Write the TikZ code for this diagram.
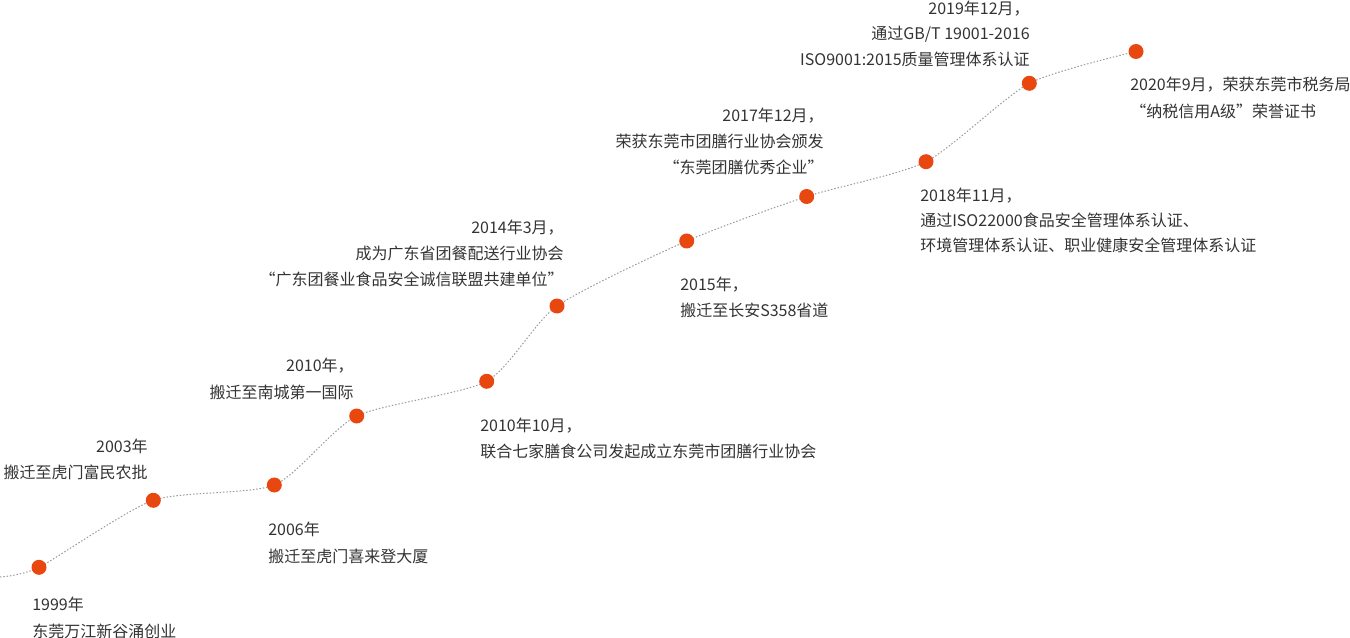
\documentclass[tikz,border=0pt]{standalone}
\usepackage{fontspec}
\setmainfont{Noto Sans CJK SC}
\definecolor{dotc}{HTML}{E8470F}
\definecolor{txtc}{HTML}{333333}
\definecolor{linec}{HTML}{999999}
\begin{document}
\begin{tikzpicture}[x=0.75pt,y=-0.75pt,
  lbl/.style={inner sep=0pt, text=txtc, font=\fontsize{12pt}{19.5pt}\selectfont},
  lw/.style={lbl, anchor=base west},
  le/.style={lbl, anchor=base east},
  dot/.style={circle, fill=dotc, minimum size=11.25pt, inner sep=0pt},
  trail/.style={draw=linec, line width=0.75pt, dash pattern=on 1.1pt off 1.4pt}]
\useasboundingbox (0,0) rectangle (1350,638);
\coordinate (s) at (0,577);
\coordinate (p1) at (39,567.3);
\coordinate (p2) at (153.3,500.3);
\coordinate (p3) at (274.3,485);
\coordinate (p4) at (356.7,416);
\coordinate (p5) at (486.7,381.3);
\coordinate (p6) at (557,306);
\coordinate (p7) at (686.7,241);
\coordinate (p8) at (806.7,196.5);
\coordinate (p9) at (926,161.7);
\coordinate (p10) at (1029.3,83.3);
\coordinate (p11) at (1136,51.5);
\draw[trail] plot[smooth, tension=0.4] coordinates {(s) (p1) (p2) (p3) (p4) (p5) (p6) (p7) (p8) (p9) (p10) (p11)};
\foreach \i in {1,...,11} \node[dot] (d\i) at (p\i) {};
% 1999
\node[lw] (a1) at (32,610) {1999年};
\node[lw] (a2) at (32,637) {东莞万江新谷涌创业};
% 2003
\node[le] (b1) at (148,452) {2003年};
\node[le] (b2) at (148,478.5) {搬迁至虎门富民农批};
% 2006
\node[lw] (c1) at (268,535) {2006年};
\node[lw] (c2) at (268,562) {搬迁至虎门喜来登大厦};
% 2010
\node[le] (e1) at (354,371.5) {2010年，};
\node[le] (e2) at (354,398) {搬迁至南城第一国际};
% 2010.10
\node[lw] (f1) at (480,431.7) {2010年10月，};
\node[lw] (f2) at (480,457) {联合七家膳食公司发起成立东莞市团膳行业协会};
% 2014.3
\node[le] (g1) at (564,233.3) {2014年3月，};
\node[le] (g2) at (564,259.3) {成为广东省团餐配送行业协会};
\node[le] (g3) at (564,286) {“广东团餐业食品安全诚信联盟共建单位”};
% 2015
\node[lw] (h1) at (680,291) {2015年，};
\node[lw] (h2) at (680,316.7) {搬迁至长安S358省道};
% 2017.12
\node[le] (i1) at (824,122) {2017年12月，};
\node[le] (i2) at (824,147.7) {荣获东莞市团膳行业协会颁发};
\node[le] (i3) at (824,174) {“东莞团膳优秀企业”};
% 2018.11
\node[lw] (j1) at (920,202) {2018年11月，};
\node[lw] (j2) at (920,227) {通过ISO22000食品安全管理体系认证、};
\node[lw] (j3) at (920,252) {环境管理体系认证、职业健康安全管理体系认证};
% 2019.12
\node[le] (k1) at (1030,14.3) {2019年12月，};
\node[le] (k2) at (1030,39.3) {通过GB/T 19001-2016};
\node[le] (k3) at (1030,65.3) {ISO9001:2015质量管理体系认证};
% 2020.9
\node[lw] (m1) at (1130,91) {2020年9月，荣获东莞市税务局};
\node[lw] (m2) at (1130,117.7) {“纳税信用A级”荣誉证书};
\end{tikzpicture}
\end{document}
